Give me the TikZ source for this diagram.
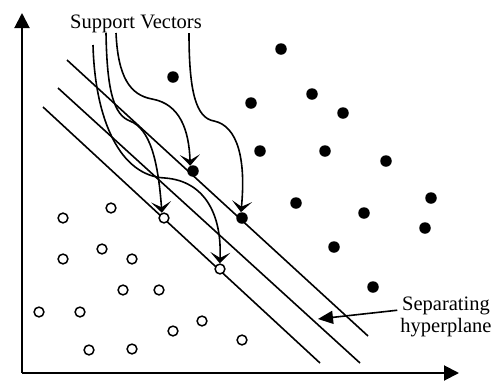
\documentclass[tikz,border=0pt]{standalone}
\usepackage{fontspec}
\setmainfont{Liberation Serif}
\usetikzlibrary{arrows.meta}
\begin{document}
\begin{tikzpicture}[x=1pt,y=-1pt,
  full/.style={circle,fill=black,inner sep=0pt,minimum size=11.5pt},
  hollow/.style={circle,draw=black,line width=1.5pt,fill=white,inner sep=0pt,minimum size=9.8pt},
  plane/.style={line width=1.6pt},
  pointer/.style={line width=1.6pt,-{Stealth[length=11pt,width=20pt,inset=5.5pt]}},
  axis/.style={line width=2pt,-{Triangle[length=15pt,width=15pt]}},
  lbl/.style={font=\fontsize{20.5pt}{22pt}\selectfont,inner sep=0pt}]
\useasboundingbox (0,0) rectangle (496,381);
% axes
\coordinate (O) at (22,373);
\coordinate (Ytop) at (22,13);
\coordinate (Xend) at (459,373);
\draw[axis] (O) -- (Ytop);
\draw[axis] (O) -- (Xend);
% hyperplanes
\coordinate (p1a) at (67,60);  \coordinate (p1b) at (368,336);
\coordinate (p2a) at (58,88);  \coordinate (p2b) at (360,363);
\coordinate (p3a) at (43,107); \coordinate (p3b) at (320,363);
\draw[plane] (p1a) -- (p1b);
\draw[plane] (p2a) -- (p2b);
\draw[plane] (p3a) -- (p3b);
% filled points
\foreach \i/\x/\y in {1/173/77,2/281/49,3/251/103,4/312/94,5/343/113,6/260/151,7/325/151,8/386/161,9/431/198,10/296/203,11/364/213,12/425/228,13/334/247,14/373/287}
  \node[full] (f\i) at (\x,\y) {};
\node[full] (sv1) at (193,171) {};
\node[full] (sv2) at (242,218) {};
% hollow points
\foreach \i/\x/\y in {1/63/218,2/111/208,3/63/259,4/102/249,5/132/259,6/123/290,7/159/290,8/39/312,9/80/312,10/173/331,11/202/321,12/89/350,13/132/349,14/242/340}
  \node[hollow] (h\i) at (\x,\y) {};
\node[hollow] (sv3) at (164,218) {};
\node[hollow] (sv4) at (220,269) {};
% labels
\node[lbl,anchor=base] (sv) at (136,28) {Support Vectors};
\node[lbl,align=center,anchor=base] (sep) at (446,332) {Separating\\hyperplane};
% pointer curves
\coordinate (cA) at (93,45);
\coordinate (cB) at (106,33);
\coordinate (cC) at (116,33);
\coordinate (cD) at (189,33);
\draw[pointer] (cA) .. controls (95,120) and (120,176) .. (165,178) .. controls (205,181) and (222,215) .. (sv4.92);
\draw[pointer] (cB) .. controls (107,92) and (114,115) .. (130,121) .. controls (150,129) and (158,160) .. (sv3.112);
\draw[pointer] (cC) .. controls (118,77) and (130,95) .. (152,99) .. controls (180,104) and (189,130) .. (sv1.118);
\draw[pointer] (cD) .. controls (189,92) and (196,118) .. (214,121) .. controls (238,126) and (246,160) .. (sv2.100);
% hyperplane pointer
\coordinate (hp) at (318,319);
\draw[line width=1.6pt,-{Triangle[length=15pt,width=13pt]}] (sep.north west) ++(-3,14) -- (hp);
\end{tikzpicture}
\end{document}
